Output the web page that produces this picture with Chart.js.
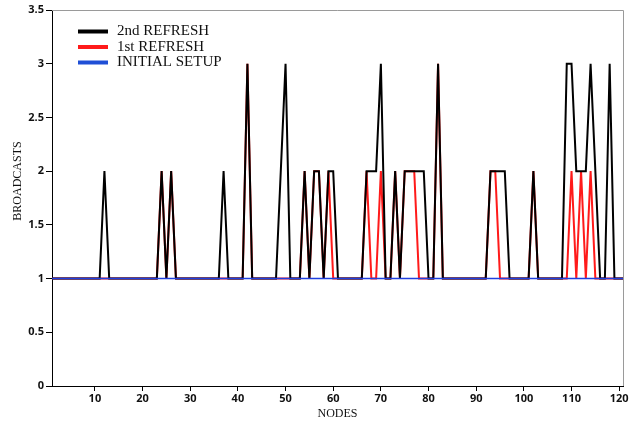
<!DOCTYPE html>
<html>
<head>
<meta charset="utf-8">
<script src="https://cdn.jsdelivr.net/npm/chart.js@4.4.0/dist/chart.umd.min.js"></script>
<style>
  html, body { margin: 0; padding: 0; background: #fff; }
  #wrap { width: 638px; height: 425px; }
</style>
</head>
<body>
<div id="wrap"><canvas id="broadcastChart" width="638" height="425"></canvas></div>
<script>
// nodes 1..121
const nodes = Array.from({ length: 121 }, (_, i) => i + 1);

const secondRefresh = [
  1, 1, 1, 1, 1, 1, 1, 1, 1, 1,
  1, 2, 1, 1, 1, 1, 1, 1, 1, 1,
  1, 1, 1, 2, 1, 2, 1, 1, 1, 1,
  1, 1, 1, 1, 1, 1, 2, 1, 1, 1,
  1, 3, 1, 1, 1, 1, 1, 1, 2, 3,
  1, 1, 1, 2, 1, 2, 2, 1, 2, 2,
  1, 1, 1, 1, 1, 1, 2, 2, 2, 3,
  1, 1, 2, 1, 2, 2, 2, 2, 2, 1,
  1, 3, 1, 1, 1, 1, 1, 1, 1, 1,
  1, 1, 2, 2, 2, 2, 1, 1, 1, 1,
  1, 2, 1, 1, 1, 1, 1, 1, 3, 3,
  2, 2, 2, 3, 2, 1, 1, 3, 1, 1,
  1
];

const firstRefresh = [
  1, 1, 1, 1, 1, 1, 1, 1, 1, 1,
  1, 1, 1, 1, 1, 1, 1, 1, 1, 1,
  1, 1, 1, 2, 1, 2, 1, 1, 1, 1,
  1, 1, 1, 1, 1, 1, 1, 1, 1, 1,
  1, 3, 1, 1, 1, 1, 1, 1, 1, 1,
  1, 1, 1, 2, 1, 2, 2, 1, 2, 1,
  1, 1, 1, 1, 1, 1, 2, 1, 1, 2,
  1, 1, 2, 1, 2, 2, 2, 1, 1, 1,
  1, 3, 1, 1, 1, 1, 1, 1, 1, 1,
  1, 1, 2, 2, 1, 1, 1, 1, 1, 1,
  1, 2, 1, 1, 1, 1, 1, 1, 1, 2,
  1, 2, 1, 2, 1, 1, 1, 1, 1, 1,
  1
];

const initialSetup = [
  1, 1, 1, 1, 1, 1, 1, 1, 1, 1,
  1, 1, 1, 1, 1, 1, 1, 1, 1, 1,
  1, 1, 1, 1, 1, 1, 1, 1, 1, 1,
  1, 1, 1, 1, 1, 1, 1, 1, 1, 1,
  1, 1, 1, 1, 1, 1, 1, 1, 1, 1,
  1, 1, 1, 1, 1, 1, 1, 1, 1, 1,
  1, 1, 1, 1, 1, 1, 1, 1, 1, 1,
  1, 1, 1, 1, 1, 1, 1, 1, 1, 1,
  1, 1, 1, 1, 1, 1, 1, 1, 1, 1,
  1, 1, 1, 1, 1, 1, 1, 1, 1, 1,
  1, 1, 1, 1, 1, 1, 1, 1, 1, 1,
  1, 1, 1, 1, 1, 1, 1, 1, 1, 1,
  1
];

const xTicks = [10, 20, 30, 40, 50, 60, 70, 80, 90, 100, 110, 120];
const yTicks = [0, 0.5, 1, 1.5, 2, 2.5, 3, 3.5];

const toPoints = (vals) => vals.map((v, i) => ({ x: nodes[i], y: v }));

const tickFont = { family: '"Open Sans", "DejaVu Sans", sans-serif', size: 11, weight: 'bold' };

// legend + axis titles + gray frame, drawn by hand
const extrasPlugin = {
  id: 'extras',
  afterDraw(chart) {
    const ctx = chart.ctx;
    const a = chart.chartArea;
    ctx.save();

    // top / right frame
    ctx.strokeStyle = '#9a9a9a';
    ctx.lineWidth = 1;
    ctx.beginPath();
    ctx.moveTo(a.left, a.top + 0.5);
    ctx.lineTo(a.right + 0.5, a.top + 0.5);
    ctx.lineTo(a.right + 0.5, a.bottom);
    ctx.stroke();

    // legend
    const items = [
      { label: '2nd REFRESH', color: '#000000' },
      { label: '1st REFRESH', color: '#ff1a1a' },
      { label: 'INITIAL SETUP', color: '#1f4fd6' }
    ];
    ctx.font = '15px "Liberation Serif", "Times New Roman", serif';
    ctx.textBaseline = 'middle';
    items.forEach((it, i) => {
      const y = 31.5 + i * 15.5;
      ctx.strokeStyle = it.color;
      ctx.lineWidth = 4;
      ctx.beginPath();
      ctx.moveTo(78, y);
      ctx.lineTo(108, y);
      ctx.stroke();
      ctx.fillStyle = '#111';
      ctx.fillText(it.label, 117, y);
    });

    // axis titles
    ctx.fillStyle = '#111';
    ctx.font = '12px "Liberation Serif", "Times New Roman", serif';
    ctx.textAlign = 'center';
    ctx.fillText('NODES', (a.left + a.right) / 2, 414);
    ctx.translate(18, 181);
    ctx.rotate(-Math.PI / 2);
    ctx.fillText('BROADCASTS', 0, 0);

    ctx.restore();
  }
};

const ctx = document.getElementById('broadcastChart').getContext('2d');
new Chart(ctx, {
  type: 'line',
  data: {
    datasets: [
      {
        label: 'INITIAL SETUP',
        data: toPoints(initialSetup),
        borderColor: '#1f3fe0',
        borderWidth: 1.6,
        pointRadius: 0,
        tension: 0,
        order: 0
      },
      {
        label: '2nd REFRESH',
        data: toPoints(secondRefresh),
        borderColor: '#000000',
        borderWidth: 2,
        pointRadius: 0,
        tension: 0,
        order: 1
      },
      {
        label: '1st REFRESH',
        data: toPoints(firstRefresh),
        borderColor: '#ff1a1a',
        borderWidth: 2,
        pointRadius: 0,
        tension: 0,
        order: 2
      }
    ]
  },
  plugins: [extrasPlugin],
  options: {
    responsive: false,
    animation: false,
    layout: { padding: { left: 0, right: 15, top: 10, bottom: 0 } },
    plugins: {
      legend: { display: false },
      tooltip: { enabled: false }
    },
    scales: {
      x: {
        type: 'linear',
        min: 1,
        max: 120.8,
        afterBuildTicks: (scale) => {
          scale.ticks = xTicks.map(v => ({ value: v }));
        },
        afterFit: (scale) => { scale.height = 39; },
        grid: { display: true, drawOnChartArea: false, drawTicks: true, tickLength: 5, color: '#000' },
        border: { display: true, color: '#000', width: 1 },
        ticks: { color: '#111', font: tickFont, padding: 1, maxRotation: 0, autoSkip: false }
      },
      y: {
        min: 0,
        max: 3.5,
        afterBuildTicks: (scale) => {
          scale.ticks = yTicks.map(v => ({ value: v }));
        },
        afterFit: (scale) => { scale.width = 52; },
        grid: { display: true, drawOnChartArea: false, drawTicks: true, tickLength: 6, color: '#000' },
        border: { display: true, color: '#000', width: 1 },
        ticks: { color: '#111', font: tickFont, padding: 2, callback: (v) => String(v) }
      }
    }
  }
});
</script>
</body>
</html>
